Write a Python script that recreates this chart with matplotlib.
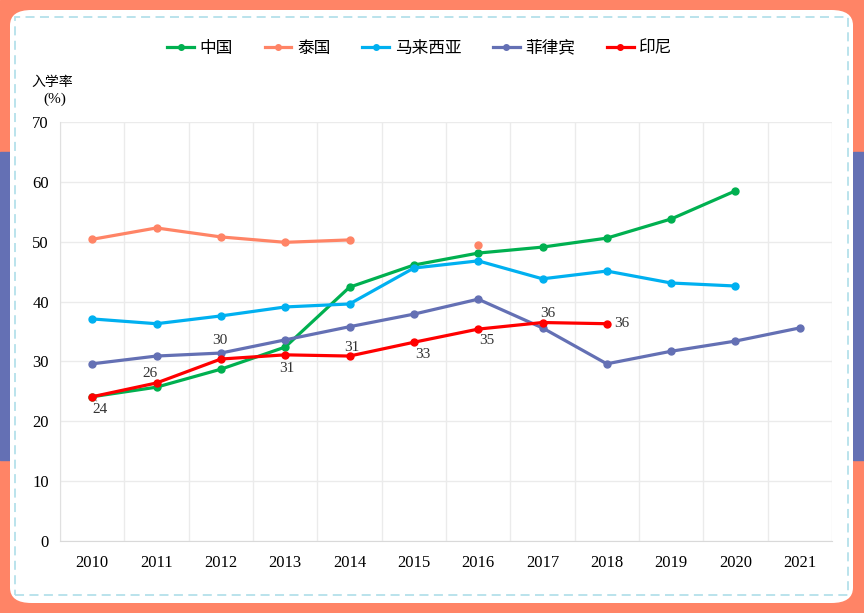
import matplotlib.pyplot as plt
import numpy as np
from matplotlib.patches import FancyBboxPatch, Rectangle

plt.rcParams['font.family'] = ['Liberation Serif', 'Noto Sans CJK SC']

years = ['2010', '2011', '2012', '2013', '2014', '2015', '2016', '2017', '2018', '2019', '2020', '2021']
china = [24.1, 25.7, 28.7, 32.4, 42.4, 46.1, 48.1, 49.1, 50.6, 53.8, 58.5, None]
thailand = [50.4, 52.3, 50.8, 49.9, 50.3, None, 49.4, None, None, None, None, None]
malaysia = [37.1, 36.3, 37.6, 39.1, 39.6, 45.6, 46.8, 43.8, 45.1, 43.1, 42.6, None]
philippines = [29.6, 30.9, 31.4, 33.6, 35.8, 37.9, 40.4, 35.6, 29.6, 31.7, 33.4, 35.6]
indonesia = [24.1, 26.4, 30.4, 31.1, 30.9, 33.2, 35.4, 36.5, 36.3, None, None, None]
indo_labels = ['24', '26', '30', '31', '31', '33', '35', '36', '36']

series = [
    ('中国', china, '#00B050'),
    ('泰国', thailand, '#FF8466'),
    ('马来西亚', malaysia, '#00B0F0'),
    ('菲律宾', philippines, '#6470B4'),
    ('印尼', indonesia, '#FF0000'),
]

fig = plt.figure(figsize=(8.64, 6.13), dpi=100)
W, H = 864, 613

# background frame
fig.patches.append(Rectangle((0, 0), 1, 1, transform=fig.transFigure, color='#FF8466', zorder=-10))
fig.patches.append(Rectangle((0, 1 - 460 / H), 10 / W, 308 / H, transform=fig.transFigure,
                             color='#6470B4', zorder=-9))
fig.patches.append(Rectangle((853 / W, 1 - 460 / H), 11 / W, 308 / H, transform=fig.transFigure,
                             color='#6470B4', zorder=-9))
fig.patches.append(FancyBboxPatch((10 / W, 1 - 603 / H), 843 / W, 593 / H,
                                  boxstyle='round,pad=0,rounding_size=0.025',
                                  transform=fig.transFigure, facecolor='white',
                                  edgecolor='none', zorder=-8))
fig.patches.append(Rectangle((15 / W, 1 - 595 / H), 833 / W, 578 / H, transform=fig.transFigure,
                             facecolor='none', edgecolor='#B4E0EA', linestyle=(0, (5, 3)),
                             linewidth=1.3, zorder=-7))

ax = fig.add_axes([60 / W, 1 - 541 / H, 772 / W, 419 / H])
ax.set_facecolor('white')
x = np.arange(len(years))

for name, vals, col in series:
    y = np.array([np.nan if v is None else v for v in vals])
    ax.plot(x, y, color=col, lw=2.3, marker='o', ms=5, label=name, zorder=3)

# Indonesia data labels
offsets = [(6, -9.5), (-5, 6.5), (-1, 13.5), (1.5, -9.5), (1.5, 6.5),
           (6.5, -9), (6, -8), (3.5, 6.5), (11, 0)]
for i, (lab, off) in enumerate(zip(indo_labels, offsets)):
    ax.annotate(lab, (x[i], indonesia[i]), xytext=off, textcoords='offset points',
                ha='center', va='center', fontsize=11, color='#333333')
ax.plot([x[0], x[0] + 0.07], [indonesia[0], indonesia[0] - 0.7], color='#aaaaaa', lw=0.8)

ax.set_xlim(-0.5, len(years) - 0.5)
ax.set_ylim(0, 70)
ax.set_yticks(range(0, 71, 10))
ax.set_xticks(x)
ax.set_xticklabels(years, fontsize=12)
ax.tick_params(axis='y', labelsize=12, length=0, pad=8)
ax.tick_params(axis='x', length=0, pad=10)
ax.set_xticks(np.arange(-0.5, len(years)), minor=True)
ax.tick_params(axis='x', which='minor', length=0)
ax.grid(axis='y', color='#EBEBEB', lw=1)
ax.grid(axis='x', which='minor', color='#EBEBEB', lw=1)
for s in ['top', 'right']:
    ax.spines[s].set_visible(False)
ax.spines['left'].set_color('#E0E0E0')
ax.spines['bottom'].set_color('#D9D9D9')
ax.set_axisbelow(True)

fig.text(52 / W, 1 - 82 / H, '入学率', ha='center', va='center', fontsize=10,
         family=['Noto Sans CJK SC'], fontweight='medium')
fig.text(55 / W, 1 - 99 / H, '(%)', ha='center', va='center', fontsize=11)

fig.legend(loc='center', bbox_to_anchor=(420 / W, 1 - 48 / H), ncol=5, frameon=False,
           prop={'family': 'Noto Sans CJK SC', 'size': 12}, columnspacing=1.9,
           handlelength=1.6, handletextpad=0.35, markerscale=0.8)

fig.savefig('out.png', dpi=100)
